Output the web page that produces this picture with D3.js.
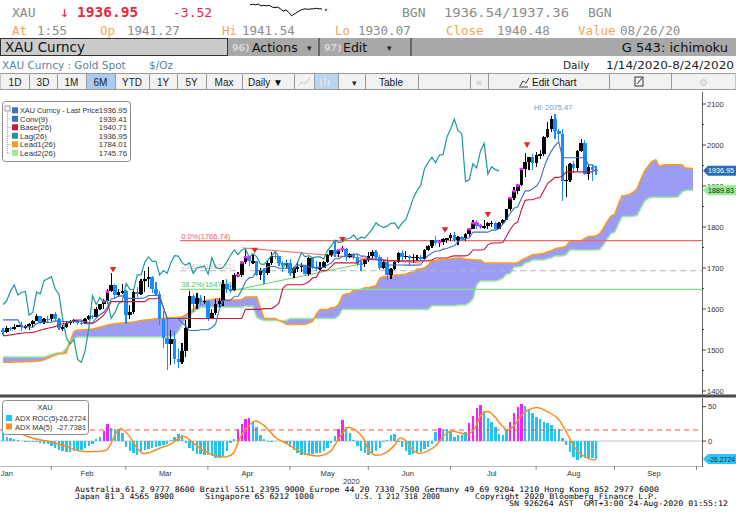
<!DOCTYPE html>
<html>
<head>
<meta charset="utf-8">
<script src="https://cdn.jsdelivr.net/npm/d3@7"></script>
<style>
  body { margin: 0; background: #fff; }
  text { font-family: "Liberation Sans", Arial, sans-serif; }
  .mono { font-family: "DejaVu Sans Mono", monospace; white-space: pre; }
  .ui { font-family: "DejaVu Sans", sans-serif; }
</style>
</head>
<body>
<script>
// ---- data ----
var months = ["Jan", "Feb", "Mar", "Apr", "May", "Jun", "Jul", "Aug", "Sep"];
var monthStart = [-9, 14, 34, 56, 78, 99, 121, 144, 165, 187];   // weekday index of the 1st of each month
var priceTicks = [1400, 1500, 1600, 1700, 1800, 1900, 2000, 2100];
var adxTicks = [0, 50];

// daily [open, high, low, close], 1/14/2020 .. 8/24/2020
var ohlc = [
  [1548,1553,1536,1545],[1545,1558,1541,1554],[1554,1557,1546,1552],[1552,1563,1550,1557],[1557,1561,1555,1560],
  [1560,1568,1547,1558],[1558,1562,1552,1558],[1558,1566,1550,1563],[1563,1574,1557,1571],[1571,1588,1571,1582],
  [1582,1583,1563,1567],[1567,1578,1564,1576],[1576,1584,1567,1575],[1575,1589,1571,1589],
  [1589,1592,1570,1576],[1576,1577,1548,1553],[1553,1562,1547,1556],[1556,1568,1553,1566],[1566,1574,1561,1570],
  [1570,1576,1565,1572],[1572,1574,1562,1567],[1567,1569,1560,1566],[1566,1578,1563,1576],[1576,1586,1574,1584],
  [1584,1586,1575,1581],[1581,1604,1578,1601],[1601,1613,1598,1611],[1611,1624,1600,1620],[1620,1649,1612,1643],
  [1643,1689,1641,1659],[1659,1662,1627,1634],[1634,1650,1630,1641],[1641,1660,1637,1643],[1643,1646,1563,1585],
  [1585,1610,1576,1592],[1592,1649,1587,1641],[1641,1653,1630,1637],[1637,1672,1634,1669],[1669,1692,1641,1674],
  [1674,1703,1653,1679],[1679,1681,1640,1649],[1649,1666,1631,1636],[1636,1645,1561,1576],[1576,1595,1504,1530],
  [1530,1575,1451,1514],[1514,1548,1464,1526],[1526,1547,1467,1477],[1477,1505,1455,1470],[1470,1516,1466,1498],
  [1498,1574,1483,1553],[1553,1644,1553,1632],[1632,1637,1592,1611],[1611,1638,1600,1628],[1628,1633,1610,1617],
  [1617,1631,1612,1620],[1620,1623,1571,1577],
  [1577,1601,1576,1591],[1591,1625,1586,1613],[1613,1627,1605,1620],[1620,1670,1608,1662],[1662,1672,1640,1648],
  [1648,1658,1640,1646],[1646,1689,1643,1683],[1683,1690,1677,1683],[1683,1716,1677,1714],[1714,1747,1710,1727],
  [1727,1730,1705,1716],[1716,1732,1710,1716],[1716,1718,1680,1683],[1683,1700,1670,1694],[1694,1699,1660,1687],
  [1687,1717,1684,1713],[1713,1739,1707,1730],[1730,1738,1722,1729],[1729,1730,1705,1713],[1713,1717,1690,1707],
  [1707,1720,1700,1713],[1713,1722,1680,1687],
  [1687,1703,1675,1700],[1700,1715,1690,1702],[1702,1711,1690,1705],[1705,1708,1681,1685],[1685,1727,1680,1725],
  [1725,1728,1698,1702],[1702,1717,1692,1698],[1698,1715,1696,1701],[1701,1718,1701,1715],[1715,1735,1713,1731],
  [1731,1745,1728,1744],[1744,1765,1727,1733],[1733,1746,1728,1744],[1744,1753,1740,1747],[1747,1748,1717,1726],
  [1726,1737,1725,1735],[1735,1736,1721,1728],[1728,1735,1704,1710],[1710,1716,1693,1709],[1709,1723,1703,1719],
  [1719,1739,1715,1730],
  [1730,1745,1725,1740],[1740,1744,1720,1726],[1726,1731,1694,1700],[1700,1716,1697,1714],[1714,1727,1670,1684],
  [1684,1700,1672,1698],[1698,1718,1695,1714],[1714,1740,1713,1737],[1737,1744,1718,1727],[1727,1741,1721,1730],
  [1730,1732,1704,1725],[1725,1735,1713,1727],[1727,1732,1718,1727],[1727,1731,1716,1722],[1722,1746,1719,1743],
  [1743,1757,1741,1754],[1754,1769,1749,1768],[1768,1779,1757,1762],[1762,1768,1752,1764],[1764,1772,1757,1771],
  [1771,1774,1760,1772],[1772,1786,1766,1781],
  [1781,1789,1763,1769],[1769,1777,1757,1775],[1775,1777,1770,1773],[1773,1786,1767,1784],[1784,1796,1774,1795],
  [1795,1818,1794,1810],[1810,1818,1795,1803],[1803,1808,1795,1799],[1799,1817,1796,1802],[1802,1813,1794,1809],
  [1809,1814,1799,1810],[1810,1813,1795,1796],[1796,1812,1795,1810],[1810,1820,1806,1818],[1818,1843,1816,1843],
  [1843,1872,1840,1871],[1871,1898,1867,1888],[1888,1905,1880,1902],[1902,1944,1900,1942],[1942,1981,1922,1958],
  [1958,1971,1940,1970],[1970,1978,1940,1957],[1957,1983,1947,1975],
  [1975,1987,1965,1977],[1977,2021,1973,2019],[2019,2055,2016,2039],[2039,2070,2032,2063],[2063,2075,2015,2035],
  [2035,2040,2010,2028],[2028,2040,1863,1911],[1911,1950,1874,1915],[1915,1957,1909,1954],[1954,1962,1932,1944],
  [1944,1988,1936,1985],[1985,2015,1982,2004],[2004,2011,1928,1929],[1929,1951,1915,1947],[1947,1951,1912,1940],
  [1940,1948,1926,1937]
];

var conv = [
  1573.5,1573.5,1573.5,1573.5,1573.5,1556,1556,1557,1555,
  1564.5,1567,1567.5,1567.5,1568,1571,1570,1569.5,1569.5,1569.5,1569.5,1569.5,1569.5,1569.5,1566.5,1566.5,
  1578.5,1586.5,1592,1604.5,1624.5,1626,1631.5,1632,1626,
  1626,1626,1626,1626,1627.5,1633,1633,1633,1632,1603.5,1577,1577,1577,1577,
  1566,1558.5,1548,1547.5,1547.5,1549.5,1549.5,1549.5,1555,1563.5,
  1598.5,1620.5,1621.5,1621.5,1630,1630.5,1646,1666.5,1676,1677.5,
  1693.5,1693.5,1695,1703.5,1703.5,1703.5,1699.5,1699.5,1699.5,1699.5,1699.5,
  1707,1707,1706.5,1702.5,1701.5,1701.5,1701.5,1701.5,1707.5,1712.5,
  1722.5,1722.5,1728.5,1728.5,1730.5,1733,1734.5,1729,1729,1723,1723,
  1720.5,1719,1719,1707.5,1707.5,1707.5,1707.5,1707.5,1707,1707,1707,1707,1708,
  1720.5,1730.5,1736.5,1741.5,1741.5,1746,1747.5,1751,1754,1765,1769,1770.5,1774,
  1787.5,1787.5,1787.5,1787.5,1787.5,1792.5,1792.5,1796,1807,1818.5,1833,1846,1849.5,
  1869.5,1888,1888,1893.5,1899.5,1913.5,1944,1967.5,1985,1998.5,2007.5,
  1969,1969,1969,1969,1969,1969,1969,1951.5,1951.5,1944.5
];

var base = [
  1535,1535,1537,1538,1540,1541,1542,1542,1543,1545,1548,1551,1553,1555,
  1557,1562,1564,1564,1568,1573,1573,1573,1564,1564,1564,1570,1577,1585,1598,1618,
  1618,1618,1618,1618,1618,1618,1618,1618,1618,1625,1625,1625,1628,1603.5,
  1577,1577,1577,1577,1577,1577,1577,1577,1577,1577,1577,1577,1577,1577,1577,1577,1577,1577,1577,1577,1577,
  1599,1599,1599,1599,1599,1601,1601,1601,1606.5,1615,1650,1659,1659,1659,1659,1659,
  1661.5,1666.5,1676,1677.5,1693.5,1693.5,1695,1703.5,
  1712.5,1712.5,1712.5,1712.5,1712.5,1712.5,1712.5,1720,1720,1720,1720,1720,1720,1720,
  1717.5,1717.5,1717.5,1717.5,1717.5,1717.5,1717.5,1717.5,1717.5,1717.5,1717.5,1717.5,
  1719.5,1724.5,1724.5,1724.5,1724.5,1728,1729.5,1729.5,1729.5,1729.5,1733,1744,1744,1744,1745,1756.5,
  1761,1761,1761,1762,1778,1794,1807,1812,1842.5,1865,1866.5,1866.5,1870,1872,1889,1906,1913.5,1921,1921,
  1924.5,1934.5,1934.5,1934.5,1934.5,1934.5,1934.5,1934.5,1934.5,1940.5
];

// leading spans, already displaced 26 sessions forward (index 0 = 1/14/2020)
var lead1 = [
  1470,1470,1470,1471,1471,1471,1472,1472,1472,1473,1473,
  1476,1480,1484,1488,1490,1491,1493,1520,1545,1549,1549,1550,1550,1551,1553,
  1556,1558,1561,1563,1564,1565,1566,1567,1567,1568,1570,1572,1573,1574,1575,1576,1577,1578,1578,1579,
  1579,1580,1581,1585,1592,1600,1610,1617,1620,1622,
  1622,1625,1625,1622,1622,1622,1622,1622,1623,1629,1629,1629,1630,
  1603.5,1577,1577,1577,1577,1571.5,1568,1562.5,1562,1562,1563,1563,1563,1566,1570,
  1588,1599,1599,1599,1603.5,1604,1611.5,1633,1637.5,1638,1646,1646,1648,1652,1652,1655,1657,
  1675,1679,1679,1679,1683,1683,1684,1684.5,1689,1689.5,1697.5,1697.5,1701,1708,1717.5,1717.5,
  1720.5,1720.5,1721.5,1723,1723.5,1724.5,1724.5,1721.5,1721.5,1720,1719.5,1719.5,
  1712.5,1712.5,1712.5,1712.5,1712.5,1712,1712,1712,1712,1713,1719,1724,1728,1733,1733,1735,1736,
  1739.5,1742,1747,1749,1750,1753.5,1766,1766,1766,1766,1772,1777,1777,1778.5,
  1784.5,1798,1813.5,1826.5,1831,1856,1876.5,1877,1880,1885,1893,1916.5,1937,1949,1960,1964,1947,
  1952,1952,1952,1952,1952,1952,1943,1943,1942.5
];
var lead2 = [
  1483,1483,1483,1483,1483,1483,1483,1483,1483,1483,1483,1483,
  1486,1489,1492,1493,1495,1505,1520,1528,
  1532,1532,1532,1532,1532,1532,1532,1532,1532,1532,1532,1532,1532,1532,1532,1532,1532,1532,1532,1532,
  1532,1532,1532,1532,1532,1532,
  1535,1545,1560,1575,1585,1592,1598,
  1604,1604,1604,1604,1604,1604,1604,1604,1604,1604,1604,1604,1607,1607,1607,
  1580,1575,1572,1572,1572,1572,1572,1572,1572,
  1577,1577,1577,1577,1577,1577,1577,1577,1577,1577,1577,1577,1577,1583.5,
  1599,1599,1599,1599,1599,1599,1599,1599,1599,1599,1599,1599,1599,1599,1599,1599,1599,1599,1599,1599,
  1599,1599,1599,1599,
  1608,1608,1608,1608,1608,1608,1608,1610,1610,1610,
  1615.5,1624,1659,1668,1668,1668,1668,1668,
  1670.5,1675.5,1685,1686.5,1702.5,1702.5,1704,1712.5,1714.5,
  1719.5,1719.5,1719.5,1719.5,1723,1724.5,1729.5,1729.5,1729.5,1733,
  1744,1744,1744,1744,1744,1744,1744,1744,
  1745,1756.5,1771,1784,1787.5,1807,1825.5,1825.5,1825.5,1826.5,1828.5,1845.5,1862.5,1870,
  1872.5,1872.5,1872.5,1872.5,1872.5,1872.5,1872.5,1873.5,1885,1889.5,1889.5,1889.5
];
var lagShift = 26;
var lastPrice = "1936.95", lead2Last = "1889.83";

var fibLevels = ["0.0%", "23.6%", "38.2%"];
var fibValues = [1766.74, 1693.31, 1647.88];
var fibFrom = 47.5;                         // anchored at the March low
var trendRed = [[64.3, 1749], [112, 1712]];
var trendGreen = [[61, 1644], [97, 1712]];
var signals = [[29.5, 1698], [67.5, 1745], [91, 1771], [118.5, 1795], [130, 1832], [140.5, 2002]];
var highLabel = "Hi: 2075.47";

var adxRoc = [
  13.6,6,5,3.5,2,0,-1,-1.5,-2,-2,
  -3,-4,-5,-7,-10,-13,-15,-16,-16,-15,
  -13,-13,-10,-7,-4,3,6,14,24,19,
  18,17,12,-8,-14,-18,-21,-15,-13,-12,
  -10,-8,-7,-6,-4,2,6,10,8,-3,
  -10,-15,-19,-19,-20,-21,-22,-24,-24,-22,
  -15,-3,3,17,25,32,34,28,20,8,
  3,-2,-1,0.5,0.5,-2,-4,-8,-13,-17,
  -20,-21,-20,-19,-18,-17,-15,-10,-3,7.7,
  17,30,20,12,2,-7,-14,-18,-20,-18,
  -14,-10,-2,2,8.7,10,-2,-8,-15,-20,
  -19,-18,-16,-12,-8,-4,13,19,16,17,
  13,6,8,9,13,26,37,48,52,43,
  34,28,21,10,8,16,28,40,50,54,
  51,45,40,35,32,28,26,23,18,18,
  5,-6,-15.5,-23,-27.7,-25,-24,-25,-25,-26.27
];
var adxHot = [27, 28, 63, 64, 65, 66, 90, 91, 117, 125, 126, 127, 128, 136, 137, 138, 139];
var adxThreshold = 16;
var adxMa = [
  [0,29],[2,21],[4.6,11],[8,4],[12.6,-1],[17,-8],[20.6,-14.5],[24,-15.5],[27.8,-13],[28.7,-6],
  [30.5,13.5],[31.4,18],[32.3,16],[34,6],[36,-10.5],[37.6,-18],[39.4,-16.5],[42,-10.5],[44.8,-5],
  [47.5,5],[48.8,6.3],[50,1.5],[52.8,-10.5],[56.4,-20.4],[60,-22.8],[61.7,-18],[63.5,4],[65.3,18.4],
  [67.6,29],[69.8,23.3],[71.6,13.6],[73.3,4],[76,-3.4],[78.7,-13],[81.4,-19.4],[85,-21.4],[87.7,-15.5],
  [89.5,-1],[91.3,13.6],[92.6,20],[94.4,16],[96.6,4],[98,-13],[99.6,-20.4],[102.3,-18],[105,-6],
  [106.3,4],[107.7,1.5],[109.5,-10.7],[111.3,-18],[113,-16.5],[115.7,-8.3],[118.4,8.7],[120.2,14.6],
  [122,12.6],[124.7,9.7],[126.5,18.4],[128.2,37.8],[130,42.7],[131.8,35.4],[133.6,23.3],[135.4,16],
  [137.2,23.3],[139,37.8],[140.8,45],[143.4,48.5],[146,42.7],[148.7,33],[150.5,18.4],[152.4,-1],
  [154.2,-15.5],[156.8,-25.2],[159,-27.74]
];

var legendNames = ["XAU Curncy - Last Price", "Conv(9)", "Base(26)", "Lag(26)", "Lead1(26)", "Lead2(26)"];
var legendValues = ["1936.95", "1939.41", "1940.71", "1936.95", "1784.01", "1745.76"];
var adxNames = ["ADX ROC(5)", "ADX MA(5)"];
var adxValues = ["-26.2724", "-27.7381"];

var spark = [1940.5,1941,1940.5,1941,1939.5,1940,1939.5,1940,1938.5,1938,1938.5,1937,1935,1936,
             1934,1931,1932.5,1934,1935.5,1936.5,1937,1936.5,1937,1937,1937.5,1937,1937];
var quoteNames = ["At", "Op", "Hi", "Lo", "Close", "Value"];
var quoteValues = ["1:55", "1941.27", "1941.54", "1930.07", "1940.48", "08/26/20"];
var periods = ["1D", "3D", "1M", "6M", "YTD", "1Y", "5Y", "Max"];

// ---- styles ----
var col = {
  up: "#000000", down: "#1a8cff", hot: "#ff1cff", conv: "#3a6fc4", base: "#c41a3c",
  lag: "#1b9a9a", lead1: "#ff9a1e", lead2: "#9aea9a", cloud: "#9797f6",
  fib: ["#f06a6a", "#b4b4b4", "#86e086"], fibText: ["#ef5a5a", "#c8c8c8", "#5cc25c"],
  roc: "#22c4f4", ma: "#ff8c1a", orange: "#f5a55a", grey: "#8c8c8c", red: "#e8283c"
};

var svg = d3.select("body").append("svg")
    .attr("width", 736)
    .attr("height", 530);

var x = d3.scaleLinear().domain([0, 187]).range([3, 700.5]),
    y = d3.scaleLinear().domain([1400, 2100]).range([391, 104]),
    yAdx = d3.scaleLinear().domain([0, 50]).range([441, 406.6]);

function label(g, px, py, s, o) {
  o = o || {};
  var t = g.append("text")
      .attr("x", px).attr("y", py)
      .attr("font-size", o.size || 8)
      .attr("fill", o.fill || "#222")
      .attr("text-anchor", o.anchor || "start")
      .text(s);
  if (o.cls) t.attr("class", o.cls);
  if (o.weight) t.attr("font-weight", o.weight);
  if (o.len) t.attr("textLength", o.len).attr("lengthAdjust", "spacingAndGlyphs");
  return t;
}

// ---- quote header ----
function drawHeader() {
  label(svg, 12, 17, "XAU", {cls: "mono", size: 13, fill: "#8a8a8a"});
  label(svg, 60, 17, "\u2193", {cls: "mono", size: 15, fill: col.red});
  label(svg, 77, 17, "1936.95", {cls: "mono", size: 14.5, fill: col.red, weight: "bold"});
  label(svg, 173, 17, "-3.52", {cls: "mono", size: 13, fill: col.red});

  var sx = d3.scaleLinear().domain([0, spark.length - 1]).range([250, 322]),
      sy = d3.scaleLinear().domain([1930, 1942]).range([17, 3]);
  svg.append("path")
      .attr("d", d3.line().x(function(d, i) { return sx(i); }).y(function(d) { return sy(d); })(spark))
      .attr("fill", "none").attr("stroke", "#000").attr("stroke-width", 1);
  svg.append("circle").attr("cx", 326).attr("cy", sy(spark[spark.length - 1]) + 1).attr("r", 1.2).attr("fill", col.red);

  label(svg, 402, 17, "BGN", {cls: "mono", size: 13, fill: "#8a8a8a"});
  label(svg, 444, 17, "1936.54/1937.36", {cls: "mono", size: 13, fill: "#8a8a8a", len: 125});
  label(svg, 588, 17, "BGN", {cls: "mono", size: 13, fill: "#8a8a8a"});

  var nameX = [12, 100, 222, 335, 446, 578], valX = [37, 127, 242, 358, 497, 620];
  quoteNames.forEach(function(n, k) {
    label(svg, nameX[k], 35, n, {cls: "mono", size: 12.5, fill: col.orange});
    label(svg, valX[k], 35, quoteValues[k], {cls: "mono", size: 12.5, fill: col.grey});
  });

  // command bar
  svg.append("rect").attr("x", 228).attr("y", 38).attr("width", 508).attr("height", 18).attr("fill", "#a8a8a8");
  svg.append("rect").attr("x", 0.5).attr("y", 38.5).attr("width", 227).attr("height", 17)
      .attr("fill", "#cbcbcb").attr("stroke", "#333");
  label(svg, 5, 52, "XAU Curncy", {cls: "ui", size: 13.5, fill: "#111"});
  label(svg, 232, 51, "96)", {cls: "ui", size: 9.5, fill: "#d6d6d6", weight: "bold"});
  label(svg, 252, 52, "Actions", {cls: "ui", size: 12.5, fill: "#111"});
  label(svg, 307, 51, "\u25be", {cls: "ui", size: 9, fill: "#222"});
  label(svg, 324, 51, "97)", {cls: "ui", size: 9.5, fill: "#d6d6d6", weight: "bold"});
  label(svg, 343, 52, "Edit", {cls: "ui", size: 12.5, fill: "#111"});
  label(svg, 387, 51, "\u25be", {cls: "ui", size: 9, fill: "#222"});
  [319, 411].forEach(function(sep) {
    svg.append("line").attr("x1", sep).attr("x2", sep).attr("y1", 38).attr("y2", 56).attr("stroke", "#222");
  });
  label(svg, 728, 52, "G 543: ichimoku", {cls: "ui", size: 13, fill: "#111", anchor: "end"});

  label(svg, 2, 69, "XAU Curncy : Gold Spot", {cls: "ui", size: 10.5, fill: "#5a7fa6"});
  label(svg, 149, 69, "$/Oz", {cls: "ui", size: 10.5, fill: "#5a7fa6"});
  label(svg, 563, 69, "Daily", {cls: "ui", size: 10.5, fill: "#222"});
  label(svg, 606, 69, "1/14/2020-8/24/2020", {cls: "ui", size: 10.5, fill: "#222", len: 128});
}

// ---- period toolbar ----
function drawToolbar() {
  var bar = svg.append("g").attr("class", "ui");
  bar.append("rect").attr("x", 0).attr("y", 73.5).attr("width", 736).attr("height", 16)
      .attr("fill", "#f2f2f2").attr("stroke", "#9a9a9a");
  var edges = [1, 29, 57, 86, 115, 149, 177, 206, 242];
  periods.forEach(function(p, k) {
    var x0 = edges[k], x1 = edges[k + 1];
    if (p === "6M") bar.append("rect").attr("x", x0).attr("y", 74).attr("width", x1 - x0).attr("height", 15).attr("fill", "#a9cbf0");
    label(bar, (x0 + x1) / 2, 86, p, {size: 10, fill: "#222", anchor: "middle"});
  });
  label(bar, 248, 86, "Daily \u25bc", {size: 10, fill: "#111"});
  bar.append("rect").attr("x", 314).attr("y", 74).attr("width", 24).attr("height", 15).attr("fill", "#b9d5f2");
  bar.append("path").attr("d", "M298,86 l4,-4 l3,2 l5,-6").attr("fill", "none").attr("stroke", "#c8c8c8");
  bar.append("path").attr("d", "M321,79 v8 M325,77 v8 M329,80 v6").attr("stroke", "#e0e0e0").attr("stroke-width", 2);
  label(bar, 352, 86, "\u25be", {size: 9, fill: "#222"});
  label(bar, 391, 86, "Table", {size: 10, fill: "#111", anchor: "middle"});
  label(bar, 479, 86, "\u00ab", {size: 11, fill: "#bbb", anchor: "middle"});
  bar.append("path").attr("d", "M519,87 h9 M520,86 l3,-5 l3,2 l3,-5").attr("fill", "none").attr("stroke", "#444");
  label(bar, 532, 86, "Edit Chart", {size: 10, fill: "#111"});
  bar.append("rect").attr("x", 635).attr("y", 77).attr("width", 8).attr("height", 9).attr("fill", "none").attr("stroke", "#333");
  bar.append("path").attr("d", "M637,84 l5,-6").attr("stroke", "#333");
  label(bar, 703, 86, "\u2699", {size: 10, fill: "#ccc", anchor: "middle"});
  [29, 57, 86, 115, 149, 177, 206, 242, 294, 314, 338, 365, 418, 470, 488, 609, 671].forEach(function(sep) {
    bar.append("line").attr("x1", sep + 0.5).attr("x2", sep + 0.5).attr("y1", 74).attr("y2", 89).attr("stroke", "#9a9a9a");
  });
}

// ---- ichimoku panel ----
function drawMain() {
  svg.append("defs").append("clipPath").attr("id", "mainClip")
    .append("rect").attr("x", 0).attr("y", 92).attr("width", 702).attr("height", 302);
  var g = svg.append("g").attr("clip-path", "url(#mainClip)");

  var cloud = d3.area()
      .x(function(d, i) { return x(i); })
      .y0(function(d, i) { return y(lead2[i]); })
      .y1(function(d) { return y(d); });
  g.append("path").attr("d", cloud(lead1)).attr("fill", col.cloud).attr("fill-opacity", 0.95);

  var series = d3.line().x(function(d, i) { return x(i); }).y(function(d) { return y(d); });
  g.append("path").attr("d", series(lead2)).attr("fill", "none").attr("stroke", col.lead2).attr("stroke-width", 1.5);
  g.append("path").attr("d", series(lead1)).attr("fill", "none").attr("stroke", col.lead1).attr("stroke-width", 1.5);

  // fibonacci retracement
  fibValues.forEach(function(v, k) {
    g.append("line")
        .attr("x1", x(fibFrom)).attr("x2", 702).attr("y1", y(v)).attr("y2", y(v))
        .attr("stroke", col.fib[k]).attr("stroke-width", k === 1 ? 1.2 : 1.3)
        .attr("stroke-dasharray", k === 1 ? "6,4" : null);
    label(g, x(fibFrom) + 1, y(v) - 2, fibLevels[k] + "(" + v.toFixed(2) + ")", {size: 7.5, fill: col.fibText[k]});
  });

  var pt = d3.line().x(function(d) { return x(d[0]); }).y(function(d) { return y(d[1]); });
  g.append("path").attr("d", pt(trendRed)).attr("stroke", "#ee6666").attr("stroke-width", 1).attr("fill", "none");
  g.append("path").attr("d", pt(trendGreen)).attr("stroke", "#66d466").attr("stroke-width", 1).attr("fill", "none");

  // candles: black = close above open, blue = close below open
  var candle = g.append("g").attr("shape-rendering", "crispEdges")
    .selectAll("g").data(ohlc).enter().append("g");
  function tone(d) { return d[3] >= d[0] ? col.up : col.down; }
  candle.append("line")
      .attr("x1", function(d, i) { return x(i); })
      .attr("x2", function(d, i) { return x(i); })
      .attr("y1", function(d) { return y(d[1]); })
      .attr("y2", function(d) { return y(d[2]); })
      .attr("stroke", tone)
      .attr("stroke-width", 1.2);
  candle.append("rect")
      .attr("x", function(d, i) { return x(i) - 1.8; })
      .attr("width", 3.6)
      .attr("y", function(d) { return y(Math.max(d[0], d[3])); })
      .attr("height", function(d) { return Math.max(1.5, Math.abs(y(d[0]) - y(d[3]))); })
      .attr("fill", tone);
  g.append("g").selectAll("rect").data(adxHot).enter().append("rect")
      .attr("x", function(i) { return x(i) - 1.8; })
      .attr("width", 3.6)
      .attr("y", function(i) { return y(Math.max(ohlc[i][0], ohlc[i][3])) - 1; })
      .attr("height", 2.5)
      .attr("fill", col.hot);

  // lagging span = close drawn 26 sessions back
  g.append("path")
      .attr("d", d3.line()
        .x(function(d, i) { return x(i); })
        .y(function(d) { return y(d[3]); })(ohlc.slice(lagShift)))
      .attr("fill", "none").attr("stroke", col.lag).attr("stroke-width", 1.2);
  g.append("path").attr("d", series(base)).attr("fill", "none").attr("stroke", col.base).attr("stroke-width", 1.1);
  g.append("path").attr("d", series(conv)).attr("fill", "none").attr("stroke", col.conv).attr("stroke-width", 1.1);

  g.selectAll(".sig").data(signals).enter().append("path")
      .attr("class", "sig")
      .attr("d", d3.symbol().type(d3.symbolTriangle).size(18))
      .attr("transform", function(d) { return "translate(" + x(d[0]) + "," + y(d[1]) + ") rotate(180)"; })
      .attr("fill", "#e82424");

  label(g, 534, 110, highLabel, {size: 7.5, fill: "#6a9bd3"});

  // legend
  var lg = svg.append("g");
  lg.append("rect").attr("x", 2.5).attr("y", 101.5).attr("width", 128).attr("height", 60).attr("rx", 3)
      .attr("fill", "#fff").attr("stroke", "#8a8a8a");
  lg.append("path").attr("d", "M7.5,112 V153 M7.5,119 h4 M7.5,127.5 h4 M7.5,136 h4 M7.5,144.5 h4 M7.5,153 h4")
      .attr("stroke", "#aaa").attr("stroke-dasharray", "1,1").attr("fill", "none");
  lg.append("rect").attr("x", 5).attr("y", 106).attr("width", 5).attr("height", 5).attr("fill", "#fff").attr("stroke", "#999");
  var swatch = [col.conv, col.conv, col.base, col.lag, col.lead1, col.lead2];
  legendNames.forEach(function(n, k) {
    var ry = 113.3 + k * 8.5;
    lg.append("rect").attr("x", 12).attr("y", ry - 6).attr("width", 6).attr("height", 6).attr("fill", swatch[k]);
    label(lg, 20, ry, n, {size: 7.8, fill: "#333", len: k === 0 ? 79 : null});
    label(lg, 127, ry, legendValues[k], {size: 7.8, fill: "#333", anchor: "end"});
  });

  // price axis
  var ax = svg.append("g");
  ax.append("line").attr("x1", 702.5).attr("x2", 702.5).attr("y1", 92).attr("y2", 395).attr("stroke", "#666");
  d3.range(1400, 2101, 50).forEach(function(v) {
    ax.append("line").attr("x1", 702).attr("x2", v % 100 ? 704 : 706).attr("y1", y(v)).attr("y2", y(v)).attr("stroke", "#444");
  });
  priceTicks.forEach(function(v) {
    label(ax, 707, y(v) + 2.6, v, {size: 7.5, fill: "#333"});
  });
  valueTag(ax, y(ohlc[ohlc.length - 1][3]), lastPrice, "#2c6bb4", "#fff");
  valueTag(ax, y(lead2[lead2.length - 1]), lead2Last, "#94ee94", "#222");
}

function valueTag(g, yc, s, fill, ink) {
  g.append("path")
      .attr("d", "M703," + yc + " L708," + (yc - 5) + " H736 V" + (yc + 5) + " H708 Z")
      .attr("fill", fill);
  label(g, 708, yc + 2.6, s, {size: 7.2, fill: ink, len: s.length > 7 ? 27 : null});
}

// ---- ADX ROC panel ----
function drawAdx() {
  svg.append("rect").attr("x", 0).attr("y", 394.5).attr("width", 736).attr("height", 3).attr("fill", "#4a4a4a");
  var g = svg.append("g");
  g.append("line").attr("x1", 0).attr("x2", 702).attr("y1", yAdx(0)).attr("y2", yAdx(0)).attr("stroke", "#c4c4c4");

  g.append("g").attr("shape-rendering", "crispEdges")
    .selectAll("rect").data(adxRoc).enter().append("rect")
      .attr("x", function(d, i) { return x(i) - 1.2; })
      .attr("width", 2.4)
      .attr("y", function(d) { return yAdx(Math.max(0, d)); })
      .attr("height", function(d) { return Math.abs(yAdx(d) - yAdx(0)); })
      .attr("fill", function(d, i) { return adxHot.indexOf(i) >= 0 ? col.hot : col.roc; });

  g.append("line").attr("x1", 0).attr("x2", 702).attr("y1", yAdx(adxThreshold)).attr("y2", yAdx(adxThreshold))
      .attr("stroke", "#ee5050").attr("stroke-dasharray", "5,4");

  g.append("path")
      .attr("d", d3.line().curve(d3.curveCatmullRom)
        .x(function(d) { return x(d[0]); })
        .y(function(d) { return yAdx(d[1]); })(adxMa))
      .attr("fill", "none").attr("stroke", col.ma).attr("stroke-width", 1.5);

  // legend
  g.append("rect").attr("x", 2.5).attr("y", 400.5).attr("width", 86).attr("height", 34).attr("rx", 3)
      .attr("fill", "#fff").attr("stroke", "#8a8a8a");
  label(g, 45, 410, "XAU", {size: 7.4, fill: "#333", anchor: "middle"});
  [col.roc, col.ma].forEach(function(c, k) {
    var ry = 421 + k * 8.5;
    g.append("rect").attr("x", 6).attr("y", ry - 6).attr("width", 6).attr("height", 6).attr("fill", c);
    label(g, 15, ry, adxNames[k], {size: 7.4, fill: "#333"});
    label(g, 86, ry, adxValues[k], {size: 7.4, fill: "#333", anchor: "end"});
  });

  // axes
  g.append("line").attr("x1", 702.5).attr("x2", 702.5).attr("y1", 398).attr("y2", 467).attr("stroke", "#666");
  g.append("line").attr("x1", 0).attr("x2", 702).attr("y1", 466.5).attr("y2", 466.5).attr("stroke", "#b8b8b8");
  adxTicks.forEach(function(v) {
    g.append("line").attr("x1", 702).attr("x2", 706).attr("y1", yAdx(v)).attr("y2", yAdx(v)).attr("stroke", "#444");
    label(g, 708, yAdx(v) + 2.6, v, {size: 7.5, fill: "#333"});
  });
  valueTag(g, yAdx(adxRoc[adxRoc.length - 1]), adxValues[0], "#2ec6f6", "#0a2a3a");

  months.forEach(function(m, k) {
    var mid = (monthStart[k] + monthStart[k + 1]) / 2;
    label(g, x(mid) - 5.5, 476, m, {size: 7.5, fill: "#333", anchor: "middle"});
  });
  monthStart.slice(1).forEach(function(s) {
    g.append("line").attr("x1", x(s) - 4).attr("x2", x(s) - 4).attr("y1", 466).attr("y2", 470).attr("stroke", "#888");
  });
  label(g, 343, 484, "2020", {size: 7.5, fill: "#333"});
}

// ---- terminal footer ----
function drawFooter() {
  var f = svg.append("g");
  label(f, 75, 492, "Australia 61 2 9777 8600 Brazil 5511 2395 9000 Europe 44 20 7330 7500 Germany 49 69 9204 1210 Hong Kong 852 2977 6000",
        {cls: "mono", size: 7.6, fill: "#000", len: 584});
  label(f, 75, 499, "Japan 81 3 4565 8900", {cls: "mono", size: 7.6, fill: "#000", len: 99});
  label(f, 205, 499, "Singapore 65 6212 1000", {cls: "mono", size: 7.6, fill: "#000", len: 109});
  label(f, 355, 499, "U.S. 1 212 318 2000", {cls: "mono", size: 7.6, fill: "#000", len: 85});
  label(f, 475, 499, "Copyright 2020 Bloomberg Finance L.P.", {cls: "mono", size: 7.6, fill: "#000", len: 183});
  label(f, 509, 506, "SN 926264 AST  GMT+3:00 24-Aug-2020 01:55:12", {cls: "mono", size: 7.6, fill: "#000", len: 219});
}

drawHeader();
drawToolbar();
drawMain();
drawAdx();
drawFooter();
</script>
</body>
</html>
